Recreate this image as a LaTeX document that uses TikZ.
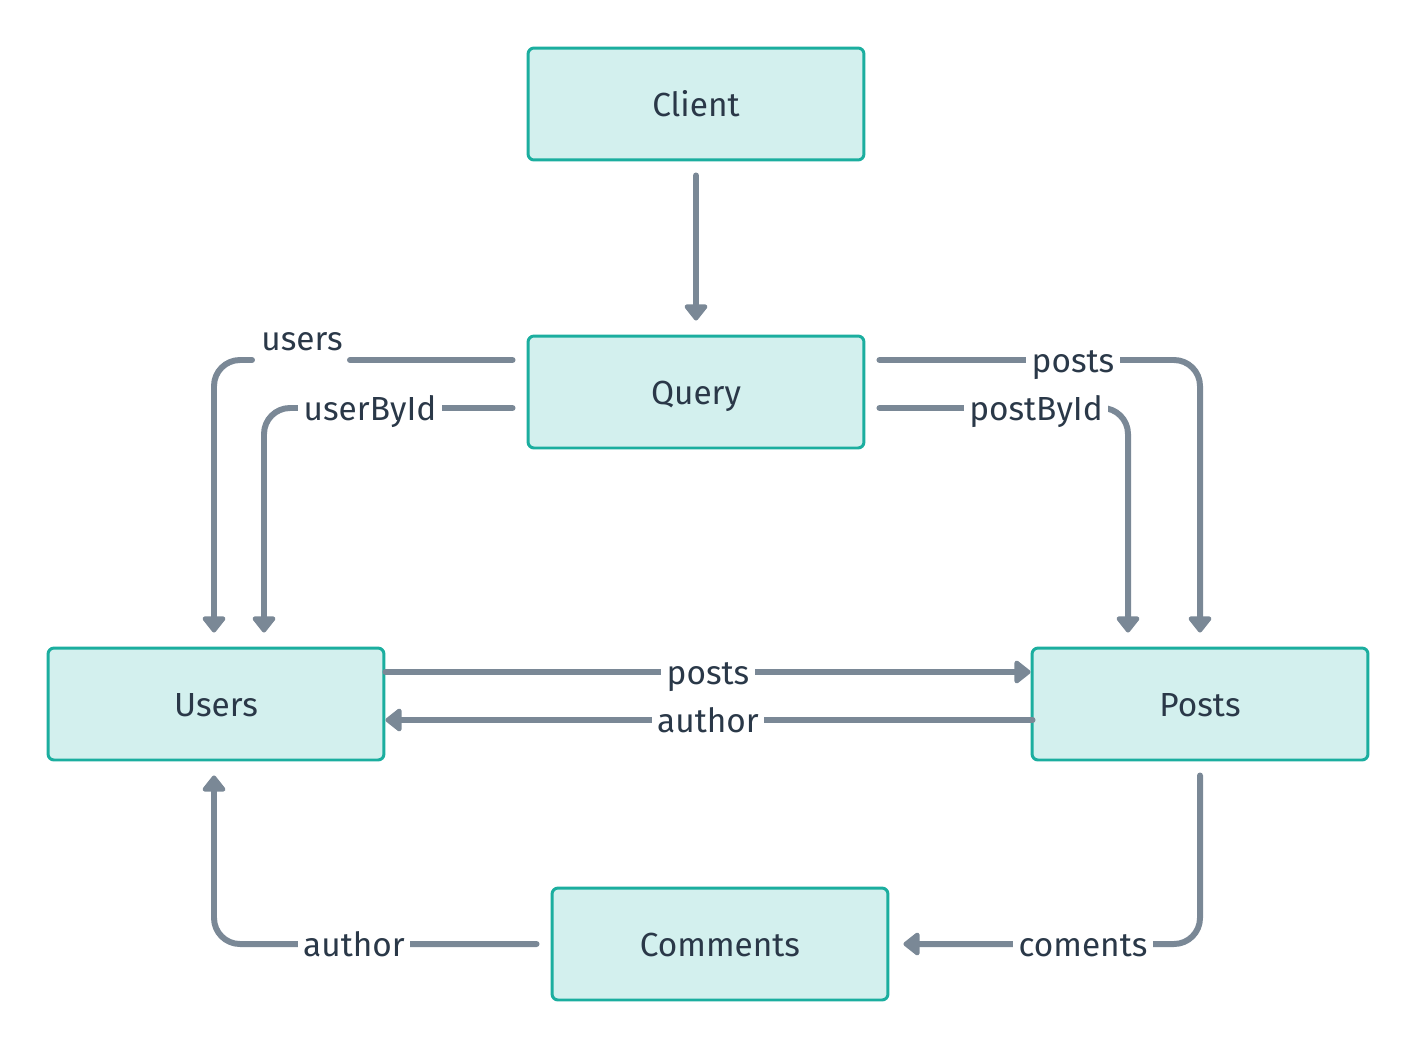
\documentclass[tikz,border=0pt]{standalone}
\usepackage{fontspec}
\setmainfont{Fira Sans}
\usetikzlibrary{arrows.meta,calc}

\definecolor{boxfill}{HTML}{D3F0EE}
\definecolor{boxline}{HTML}{1BAE9F}
\definecolor{linkgray}{HTML}{7A8896}
\definecolor{textdark}{HTML}{2A3848}

\tikzset{
  entity/.style={draw=boxline,fill=boxfill,line width=1.7pt,rounded corners=0.12cm,
    minimum width=6.72cm,minimum height=2.24cm,text=textdark,text height=14pt,text depth=0pt,
    font=\fontsize{19}{22}\selectfont},
  link/.style={draw=linkgray,line width=3.4pt,line cap=round,rounded corners=0.52cm},
  linkto/.style={link,-{Triangle[width=15pt,length=10pt,round]}},
  lbl/.style={fill=white,text=textdark,inner xsep=3pt,inner ysep=2pt,text height=14pt,text depth=0pt,
    font=\fontsize{19}{22}\selectfont}
}

\begin{document}
\begin{tikzpicture}[x=0.02cm,y=-0.02cm]
\useasboundingbox (0,0) rectangle (1416,1048);

\node[entity] (client) at (696,104) {Client};
\node[entity] (query) at (696,392) {Query};
\node[entity] (users) at (216,704) {Users};
\node[entity] (posts) at (1200,704) {Posts};
\node[entity] (comments) at (720,944) {Comments};

% client to query
\draw[linkto] ($(client.south)+(0,14)$) -- ($(query.north)+(0,-14)$);

% query to users
\coordinate (usersgap) at (350,360);
\coordinate (usersbend) at (252,360);
\draw[link] ($(query.west)+(-14,-32)$) -- (usersgap);
\draw[linkto] (usersbend) -| ($(users.north)+(-2,-14)$);
\node[text=textdark,text height=14pt,text depth=0pt,font=\fontsize{19}{22}\selectfont] (lusers) at (302,338) {users};
\draw[linkto] ($(query.west)+(-14,16)$) -| ($(users.north)+(48,-14)$);
\node[lbl] (luserbyid) at (370,408) {userById};

% query to posts
\draw[linkto] ($(query.east)+(14,-32)$) -| ($(posts.north)+(0,-14)$);
\node[lbl] (lposts) at (1073,360) {posts};
\draw[linkto] ($(query.east)+(14,16)$) -| ($(posts.north)+(-72,-14)$);
\node[lbl] (lpostbyid) at (1036,408) {postById};

% users and posts
\draw[linkto] ($(users.east)+(0,-32)$) -- ($(posts.west)+(0,-32)$);
\node[lbl] (luposts) at (708,672) {posts};
\draw[linkto] ($(posts.west)+(2,16)$) -- ($(users.east)+(0,16)$);
\node[lbl] (lpauthor) at (708,720) {author};

% comments
\draw[linkto] ($(posts.south)+(0,14)$) |- ($(comments.east)+(14,0)$);
\node[lbl] (lcoments) at (1083,944) {coments};
\draw[linkto] ($(comments.west)+(-14,0)$) -| ($(users.south)+(-2,14)$);
\node[lbl] (lcauthor) at (354,944) {author};
\end{tikzpicture}
\end{document}
